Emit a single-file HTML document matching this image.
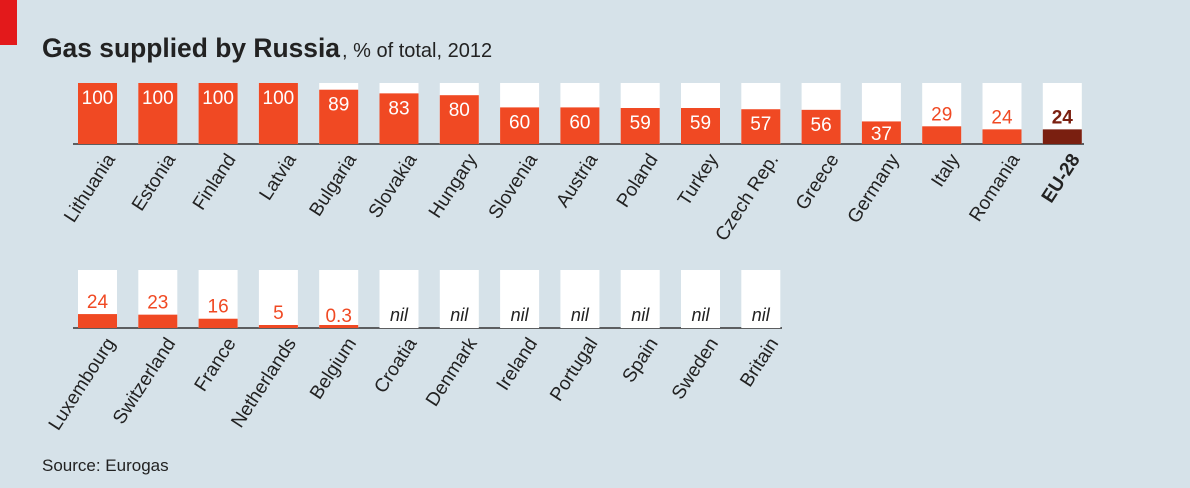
<!DOCTYPE html>
<html><head><meta charset="utf-8"><style>
body{margin:0;background:#d6e2e9;}
svg{display:block;font-family:"Liberation Sans",sans-serif;}
</style></head><body>
<svg width="1190" height="488" viewBox="0 0 1190 488">
<rect width="1190" height="488" fill="#d6e2e9"/>
<rect x="0" y="0" width="17" height="45" fill="#e3191b"/>
<text x="42" y="57" font-size="27" font-weight="bold" fill="#222" textLength="298" lengthAdjust="spacingAndGlyphs">Gas supplied by Russia</text>
<text x="342" y="57" font-size="20" fill="#222">, % of total, 2012</text>
<text x="42" y="471" font-size="17" fill="#222">Source: Eurogas</text>
<g id="chart"></g>
</svg>
<script>
var r1=[["Lithuania",100],["Estonia",100],["Finland",100],["Latvia",100],["Bulgaria",89],["Slovakia",83],["Hungary",80],["Slovenia",60],["Austria",60],["Poland",59],["Turkey",59],["Czech Rep.",57],["Greece",56],["Germany",37],["Italy",29],["Romania",24],["EU-28",24]];
var r2=[["Luxembourg",24],["Switzerland",23],["France",16],["Netherlands",5],["Belgium",0.3],["Croatia",null],["Denmark",null],["Ireland",null],["Portugal",null],["Spain",null],["Sweden",null],["Britain",null]];
var s="";
function row(d,top,base,axEnd){
 var h=base-top;
 s+='<line x1="73" y1="'+base+'" x2="'+axEnd+'" y2="'+base+'" stroke="#333" stroke-width="1.5"/>';
 d.forEach(function(e,i){
  var x=78+i*60.3,w=39,v=e[1]||0,eu=e[0]=="EU-28";
  var col=eu?"#7a1f10":"#f04923";
  s+='<rect x="'+x+'" y="'+top+'" width="'+w+'" height="'+h+'" fill="#fff"/>';
  var bh=h*v/100;
  if(v>0){var bhh=Math.max(bh,3);s+='<rect x="'+x+'" y="'+(base-bhh)+'" width="'+w+'" height="'+bhh+'" fill="'+col+'"/>';}
  var cx=x+w/2,ly,fill;
  if(e[1]===null){s+='<text x="'+cx+'" y="'+(base-7)+'" font-size="18" font-style="italic" text-anchor="middle" fill="#222">nil</text>';}
  else{
   if(bh>20){ly=Math.min(base-bh+21,base-4);fill="#fff";}else{ly=base-bh-6;fill=col;}
   s+='<text x="'+cx+'" y="'+ly+'" font-size="19" text-anchor="middle" fill="'+fill+'"'+(eu?' font-weight="bold"':'')+'>'+e[1]+'</text>';
  }
  var tx=x+w-12,ty=base+8;
  s+='<text transform="translate('+tx+','+ty+') rotate(-57)" x="0" y="0" font-size="19" text-anchor="end" dominant-baseline="hanging" fill="#222"'+(eu?' font-weight="bold"':'')+'>'+e[0]+'</text>';
 });
}
row(r1,83,144,1084);
row(r2,270,328,782);
document.getElementById("chart").innerHTML=s;
</script>
</body></html>
